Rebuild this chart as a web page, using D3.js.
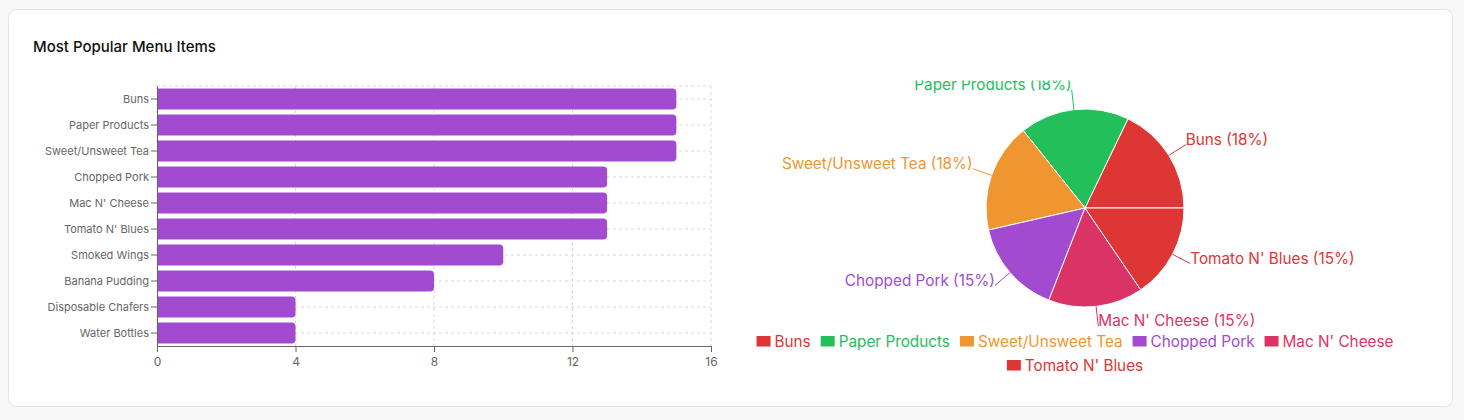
<!DOCTYPE html>
<html>
<head>
<meta charset="utf-8">
<script src="https://cdn.jsdelivr.net/npm/d3@7"></script>
<style>
  html, body { margin: 0; padding: 0; background: #f8f8f8; }
  svg { display: block; font-family: Inter, "Noto Sans", sans-serif; }
</style>
</head>
<body>
<div id="chart"></div>
<script>
// data
const categories = ['Buns', 'Paper Products', 'Sweet/Unsweet Tea', 'Chopped Pork', "Mac N' Cheese",
  "Tomato N' Blues", 'Smoked Wings', 'Banana Pudding', 'Disposable Chafers', 'Water Bottles'];
const counts = [15, 15, 15, 13, 13, 13, 10, 8, 4, 4];
const xTicks = [0, 4, 8, 12, 16];

const pieNames = ['Buns', 'Paper Products', 'Sweet/Unsweet Tea', 'Chopped Pork', "Mac N' Cheese", "Tomato N' Blues"];
const pieValues = [15, 15, 15, 13, 13, 13];
const pieColors = ['#de3535', '#22bf5b', '#ef9630', '#a24bd1', '#dc3366', '#de3535'];

const W = 1464, H = 420;
const svg = d3.select('#chart').append('svg')
  .attr('width', W)
  .attr('height', H);

// Card
svg.append('rect')
  .attr('x', 8.5).attr('y', 9.5)
  .attr('width', 1444).attr('height', 397)
  .attr('rx', 8)
  .attr('fill', '#ffffff')
  .attr('stroke', '#e4e4e4');

// Title
svg.append('text')
  .attr('x', 33).attr('y', 52)
  .attr('font-size', 15)
  .attr('font-weight', 450)
  .attr('fill', '#111')
  .text('Most Popular Menu Items');

// ---- Bar chart ----
const x = d3.scaleLinear().domain([0, 16]).range([157, 711]);
const y = d3.scaleBand().domain(categories).range([86, 346])
  .paddingInner(0.2).paddingOuter(0.1);

const grid = svg.append('g')
  .attr('stroke', '#d9d9d9')
  .attr('stroke-dasharray', '3 3');
grid.selectAll('.vg').data(xTicks).join('line')
  .attr('x1', d => x(d)).attr('x2', d => x(d))
  .attr('y1', 86).attr('y2', 346);
grid.selectAll('.hg').data(categories).join('line')
  .attr('x1', 157).attr('x2', 711)
  .attr('y1', d => y(d) + y.bandwidth() / 2)
  .attr('y2', d => y(d) + y.bandwidth() / 2);
grid.append('line').attr('x1', 157).attr('x2', 711).attr('y1', 86).attr('y2', 86);

// bars with rounded right end
const r = 4;
svg.append('g').selectAll('path').data(categories).join('path')
  .attr('fill', '#a24bd1')
  .attr('d', (d, i) => {
    const x0 = x(0), x1 = x(counts[i]), y0 = y(d), h = y.bandwidth();
    return `M${x0},${y0}H${x1 - r}A${r},${r} 0 0 1 ${x1},${y0 + r}V${y0 + h - r}` +
      `A${r},${r} 0 0 1 ${x1 - r},${y0 + h}H${x0}Z`;
  });

const xAxis = svg.append('g')
  .attr('transform', 'translate(0,346)')
  .call(d3.axisBottom(x).tickValues(xTicks).tickSizeOuter(0));
const yAxis = svg.append('g')
  .attr('transform', 'translate(157,0)')
  .call(d3.axisLeft(y).tickSizeOuter(0));
[xAxis, yAxis].forEach(a => {
  a.select('.domain').attr('stroke', '#666');
  a.selectAll('.tick line').attr('stroke', '#666');
  a.selectAll('.tick text').attr('fill', '#666').attr('font-family', 'Inter, sans-serif');
});
xAxis.selectAll('.tick text').attr('font-size', 12).attr('dy', '0.9em');
yAxis.selectAll('.tick text').attr('font-size', 11).attr('x', -8);

// ---- Pie chart ----
const cx = 1085, cy = 208, R = 99;
svg.append('clipPath').attr('id', 'pieclip')
  .append('rect').attr('x', 730).attr('y', 80.5).attr('width', 700).attr('height', 320);
const pieG = svg.append('g').attr('clip-path', 'url(#pieclip)');

const pie = d3.pie().sort(null).startAngle(Math.PI / 2).endAngle(Math.PI / 2 - 2 * Math.PI);
const arcs = pie(pieValues);
const arc = d3.arc().innerRadius(0).outerRadius(R);
const total = d3.sum(pieValues);

const g = pieG.append('g').attr('transform', `translate(${cx},${cy})`);
g.selectAll('path').data(arcs).join('path')
  .attr('d', arc)
  .attr('fill', (d, i) => pieColors[i])
  .attr('stroke', '#fff')
  .attr('stroke-width', 1);

const pt = (a, rad) => [Math.sin(a) * rad, -Math.cos(a) * rad];
arcs.forEach((d, i) => {
  const a = (d.startAngle + d.endAngle) / 2;
  const p0 = pt(a, R), p1 = pt(a, R + 20);
  g.append('line')
    .attr('x1', p0[0]).attr('y1', p0[1])
    .attr('x2', p1[0]).attr('y2', p1[1])
    .attr('stroke', pieColors[i]);
  g.append('text')
    .attr('x', p1[0]).attr('y', p1[1])
    .attr('text-anchor', p1[0] > 0.5 ? 'start' : p1[0] < -0.5 ? 'end' : 'middle')
    .attr('font-size', 15.3)
    .attr('fill', pieColors[i])
    .text(`${pieNames[i]} (${Math.round(pieValues[i] / total * 100)}%)`);
});

// Legend (wrapped, centered)
const legend = svg.append('g');
const items = pieNames.map((n, i) => {
  const it = legend.append('g');
  it.append('rect').attr('x', 0).attr('y', -5).attr('width', 14).attr('height', 10.5)
    .attr('fill', pieColors[i]);
  const t = it.append('text').attr('x', 18).attr('y', 5.5)
    .attr('font-size', 15.3).attr('fill', pieColors[i]).text(n);
  return { g: it, w: 18 + t.node().getComputedTextLength() + 10 };
});
const maxW = 680, legCx = 1080;
const rows = [[]];
let rowW = 0;
items.forEach(it => {
  if (rowW + it.w > maxW && rows[rows.length - 1].length) { rows.push([]); rowW = 0; }
  rows[rows.length - 1].push(it);
  rowW += it.w;
});
rows.forEach((row, ri) => {
  const tw = d3.sum(row, d => d.w);
  let xx = legCx - tw / 2;
  row.forEach(it => {
    it.g.attr('transform', `translate(${xx},${341 + ri * 24})`);
    xx += it.w;
  });
});
</script>
</body>
</html>
